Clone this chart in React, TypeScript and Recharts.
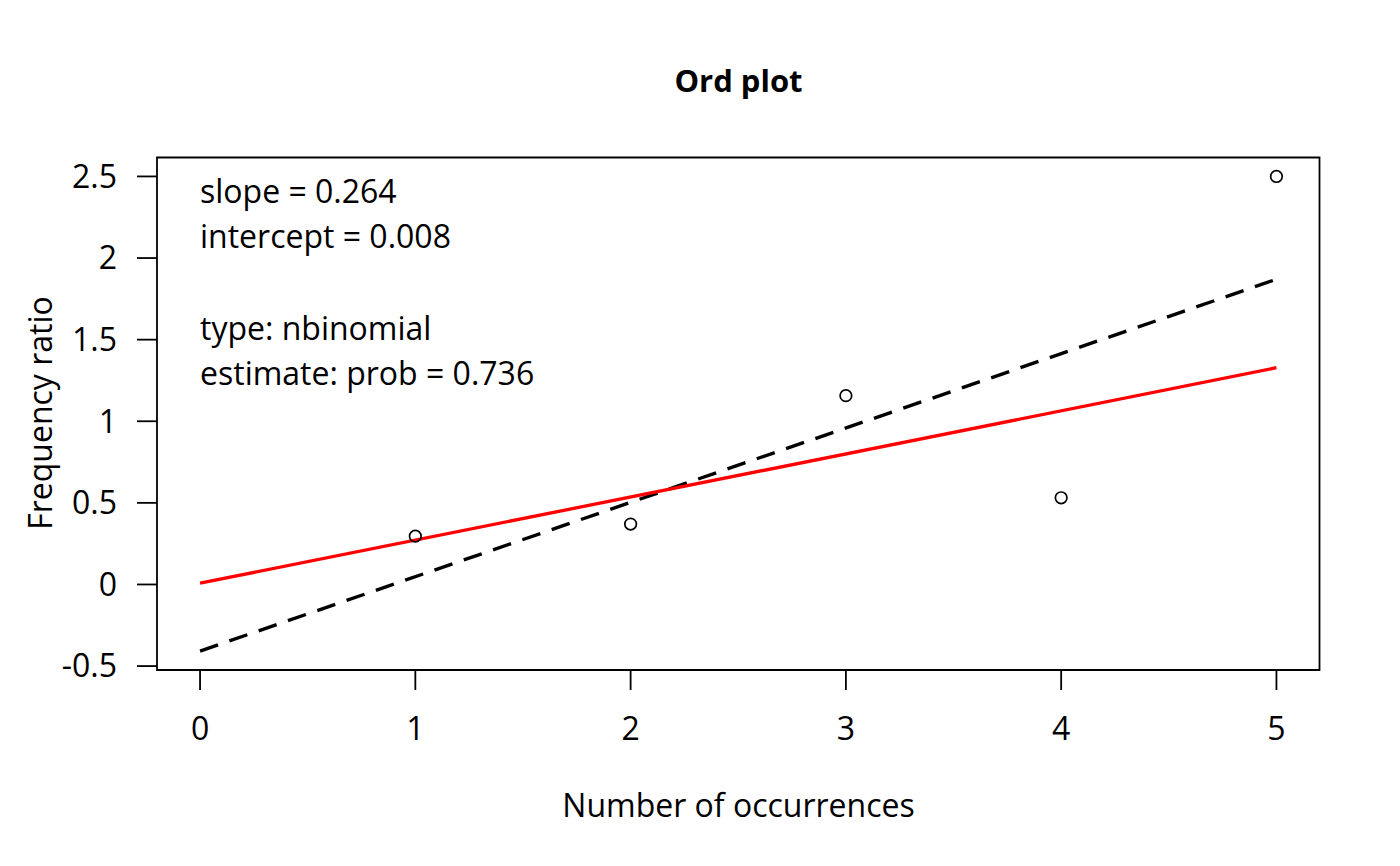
import {
  ComposedChart,
  Customized,
  Line,
  ReferenceArea,
  Scatter,
  XAxis,
  YAxis,
} from 'recharts'

const FONT = '"Open Sans", "Noto Sans", sans-serif'

// observed frequency ratios by number of occurrences
const counts = [1, 2, 3, 4, 5]
const ratios = [0.296, 0.37, 1.157, 0.531, 2.5]

// fitted lines, given by their end points (x = 0 and x = 5)
const lineX = [0, 5]
const fitY = [0.008, 1.328] // red: slope 0.264, intercept 0.008
const olsY = [-0.408, 1.87] // dashed black

const xTicks = [0, 1, 2, 3, 4, 5]
const yTicks = [-0.5, 0, 0.5, 1, 1.5, 2, 2.5]
const xDomain: [number, number] = [-0.2, 5.2]
const yDomain: [number, number] = [-0.524, 2.616]

const infoLines = [
  'slope = 0.264',
  'intercept = 0.008',
  '',
  'type: nbinomial',
  'estimate: prob = 0.736',
]

const points = counts.map((x, i) => ({ x, y: ratios[i] }))
const fitData = lineX.map((x, i) => ({ x, y: fitY[i] }))
const olsData = lineX.map((x, i) => ({ x, y: olsY[i] }))

function OpenCircle(props: { cx?: number; cy?: number }) {
  const { cx, cy } = props
  if (cx == null || cy == null) return null
  return <circle cx={cx} cy={cy} r={5.8} fill="none" stroke="#000" strokeWidth={1.7} />
}

function Texts() {
  return (
    <g fontFamily={FONT} fill="#000">
      <text x={738.5} y={91.5} textAnchor="middle" fontSize={31} fontWeight="bold">
        Ord plot
      </text>
      <text x={738.5} y={816.5} textAnchor="middle" fontSize={32}>
        Number of occurrences
      </text>
      <text
        x={52}
        y={413}
        textAnchor="middle"
        fontSize={32}
        transform="rotate(-90 52 413)"
      >
        Frequency ratio
      </text>
      {infoLines.map((t, i) => (
        <text key={i} x={200} y={202.5 + i * 45.7} fontSize={32}>
          {t}
        </text>
      ))}
    </g>
  )
}

export default function App() {
  const tickStyle = { fill: '#000', fontSize: 32, fontFamily: FONT }
  return (
    <div style={{ position: 'absolute', left: 0, top: 0, background: '#fff' }}>
      <ComposedChart
        width={1400}
        height={866}
        margin={{ top: 157.5, right: 80.5, bottom: 0, left: 0 }}
      >
        <XAxis
          type="number"
          dataKey="x"
          domain={xDomain}
          ticks={xTicks}
          interval={0}
          allowDataOverflow
          height={196}
          axisLine={false}
          tickLine={{ stroke: '#000', strokeWidth: 1.8 }}
          tickSize={20}
          tickMargin={27}
          tick={tickStyle}
        />
        <YAxis
          type="number"
          dataKey="y"
          domain={yDomain}
          ticks={yTicks}
          interval={0}
          allowDataOverflow
          width={157}
          axisLine={false}
          tickLine={{ stroke: '#000', strokeWidth: 1.8 }}
          tickSize={20}
          tickMargin={20}
          tick={tickStyle}
        />
        <ReferenceArea
          x1={xDomain[0]}
          x2={xDomain[1]}
          y1={yDomain[0]}
          y2={yDomain[1]}
          fill="none"
          fillOpacity={0}
          stroke="#000"
          strokeWidth={1.8}
          ifOverflow="visible"
        />
        <Line
          data={olsData}
          dataKey="y"
          stroke="#000"
          strokeWidth={3.4}
          strokeDasharray="19 12"
          dot={false}
          activeDot={false}
          isAnimationActive={false}
        />
        <Line
          data={fitData}
          dataKey="y"
          stroke="#ff0000"
          strokeWidth={3.3}
          dot={false}
          activeDot={false}
          isAnimationActive={false}
        />
        <Scatter data={points} dataKey="y" shape={<OpenCircle />} isAnimationActive={false} />
        <Customized component={<Texts />} />
      </ComposedChart>
    </div>
  )
}
